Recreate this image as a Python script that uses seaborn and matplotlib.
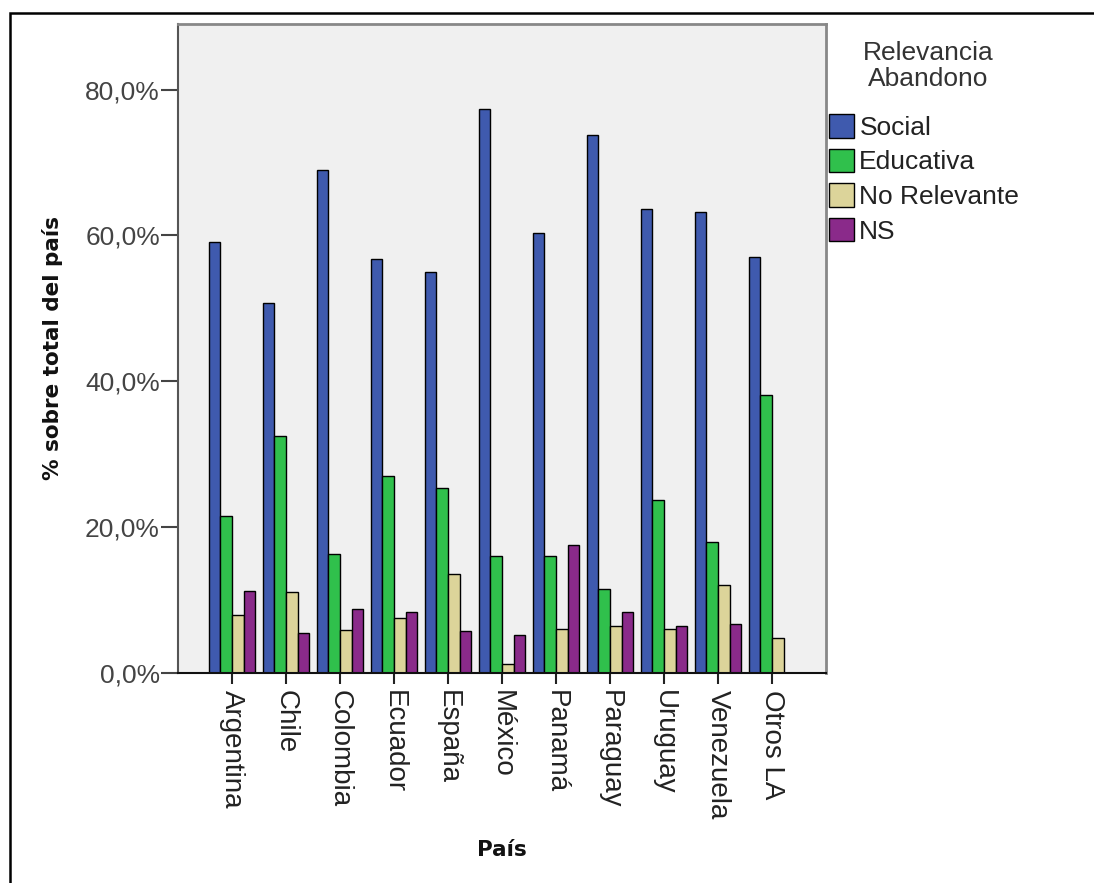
import numpy as np
import pandas as pd
import matplotlib
matplotlib.use("Agg")
import matplotlib.pyplot as plt
import seaborn as sns
from matplotlib.patches import Rectangle
from matplotlib.ticker import FuncFormatter

paises = ["Argentina", "Chile", "Colombia", "Ecuador", "España", "México",
          "Panamá", "Paraguay", "Uruguay", "Venezuela", "Otros LA"]
categorias = ["Social", "Educativa", "No Relevante", "NS"]

social = [59.1, 50.8, 69.0, 56.8, 55.0, 77.4, 60.4, 73.8, 63.6, 63.2, 57.1]
educativa = [21.5, 32.5, 16.3, 27.0, 25.4, 16.0, 16.0, 11.5, 23.7, 17.9, 38.1]
no_relevante = [8.0, 11.1, 5.9, 7.6, 13.6, 1.3, 6.1, 6.4, 6.1, 12.1, 4.8]
ns = [11.3, 5.5, 8.8, 8.3, 5.8, 5.2, 17.6, 8.4, 6.5, 6.7, 0.0]

colores = ["#3f5aae", "#30c04c", "#dcd49a", "#8a2a8a"]

# long format table for seaborn
df = pd.DataFrame({
    "País": paises * 4,
    "Relevancia": [c for c in categorias for _ in paises],
    "pct": social + educativa + no_relevante + ns,
})

sns.set_theme(style="white")
plt.rcParams["font.family"] = ["Liberation Sans", "DejaVu Sans"]

fig = plt.figure(figsize=(10.94, 8.83), dpi=100)
ax = fig.add_axes([178 / 1094, 1 - 673 / 883, 648 / 1094, 649 / 883])
ax.set_facecolor("#f0f0f0")

sns.barplot(data=df, x="País", y="pct", hue="Relevancia", order=paises,
            hue_order=categorias, palette=colores, width=0.87,
            edgecolor="black", linewidth=1, saturation=1, ax=ax)

ax.set_xlim(-1, len(paises))
ax.set_ylim(0, 89)
ax.set_yticks([0, 20, 40, 60, 80])
ax.yaxis.set_major_formatter(FuncFormatter(lambda v, p: f"{v:.1f}%".replace(".", ",")))
ax.tick_params(axis="y", labelsize=19, colors="#444444", length=12, width=1.5,
               left=True, pad=1)
ax.tick_params(axis="x", labelsize=20, colors="#222222", length=8, width=1.5,
               bottom=True, pad=4)
plt.setp(ax.get_xticklabels(), rotation=-90, va="top", ha="center")

for side in ["top", "right"]:
    ax.spines[side].set_color("#888888")
    ax.spines[side].set_linewidth(2)
ax.spines["left"].set_color("#555555")
ax.spines["left"].set_linewidth(1.5)
ax.spines["bottom"].set_color("#111111")
ax.spines["bottom"].set_linewidth(1.5)

ax.set_ylabel("% sobre total del país", fontsize=15.5, fontweight="bold",
              family="DejaVu Sans", color="#111111")
ax.set_xlabel("País", fontsize=15.5, fontweight="bold", family="DejaVu Sans",
              color="#111111")
ax.xaxis.set_label_coords(0.5, -0.258)
ax.yaxis.set_label_coords(-0.177, 0.5)

# legend title drawn separately, SPSS leaves a bigger gap under it
fig.text(928 / 1094, 1 - 66 / 883, "Relevancia\nAbandono", fontsize=19,
         color="#333333", ha="center", va="center", multialignment="center",
         linespacing=1.1)

handles, labels = ax.get_legend_handles_labels()
leg = ax.legend(handles, labels, frameon=False, fontsize=19, loc="upper left",
                bbox_to_anchor=(829 / 1094, 1 - 114 / 883),
                bbox_transform=fig.transFigure, handlelength=0.95,
                handleheight=1.0, handletextpad=0.2, labelspacing=0.33,
                borderaxespad=0, borderpad=0)
for t in leg.get_texts():
    t.set_color("#222222")

# outer frame (right and bottom edges fall outside the image)
fig.patches.append(Rectangle((10 / 1094, -0.1), 1.2, 1.1 - 13 / 883,
                             transform=fig.transFigure, fill=False,
                             edgecolor="black", linewidth=1.8))

fig.savefig("out.png", dpi=100)
